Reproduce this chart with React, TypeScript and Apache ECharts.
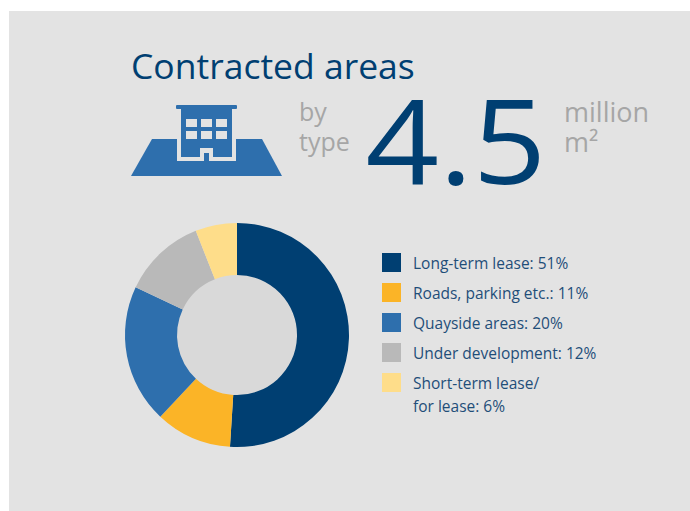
import React, { useEffect, useRef } from "react";
import * as echarts from "echarts";

const categories = ["Long-term lease", "Roads, parking etc.", "Quayside areas", "Under development", "Short-term lease/\nfor lease"];
const values = [51, 11, 20, 12, 6];
const colors = ["#003f72", "#fbb427", "#2e6fad", "#b9b9b9", "#fedd8a"];
const FONT = "Open Sans";
const NAVY = "#003f72";
const GREY = "#a6a6a6";
const BLUE = "#2e6fad";
const PANEL = "#e3e3e3";

const rect = (x: number, y: number, width: number, height: number, fill: string) => ({
  type: "rect", shape: { x, y, width, height }, style: { fill }, silent: true,
});
const text = (x: number, baseline: number, t: string, fontSize: number, fill: string, scaleX = 1) => ({
  type: "text", x, y: baseline - 0.36 * fontSize, scaleX,
  style: { text: t, fontSize, fill, fontFamily: FONT, verticalAlign: "middle" }, silent: true,
});
const twoLines = (x: number, baseline: number, t: string, fontSize: number, fill: string) => ({
  type: "text", x, y: baseline - 0.36 * fontSize + 15,
  style: { text: t, fontSize, lineHeight: 30, fill, fontFamily: FONT, verticalAlign: "middle" }, silent: true,
});
const legendText = { color: "#1f4e79", fontSize: 15.5, fontFamily: FONT, lineHeight: 23 };
const formatter = (name: string) => `${name}: ${values[categories.indexOf(name)]}%`;

export default function App() {
  const ref = useRef<HTMLDivElement>(null);
  useEffect(() => {
    document.body.style.margin = "0";
    const chart = echarts.init(ref.current!, null, { renderer: "svg" });
    const windows: any[] = [];
    for (const y of [119, 131]) for (const x of [186, 201, 216]) windows.push(rect(x, y, 11, 8, PANEL));
    chart.setOption({
      animation: false,
      backgroundColor: "#ffffff",
      graphic: [
        rect(9, 11, 681, 500, PANEL),
        { type: "circle", shape: { cx: 237, cy: 335, r: 62 }, style: { fill: "#d9d9d9" }, silent: true },
        { type: "polygon", shape: { points: [[131, 176], [282, 176], [262, 139], [152, 139]] }, style: { fill: BLUE }, silent: true },
        rect(177, 112, 59, 49, PANEL),
        rect(181, 107, 51, 50, BLUE),
        { type: "rect", shape: { x: 176, y: 105, width: 61, height: 4, r: 1 }, style: { fill: BLUE }, silent: true },
        ...windows,
        rect(200, 148, 13, 13, PANEL),
        rect(204, 153, 5, 8, BLUE),
        text(131, 78, "Contracted areas", 35.5, NAVY),
        twoLines(299, 120, "by\ntype", 25, GREY),
        text(365.5, 181, "4.5", 118, NAVY, 1.09),
        twoLines(564, 121, "million\nm²", 27, GREY),
      ],
      legend: [
        {
          orient: "vertical", left: 382, top: 249, padding: 0,
          itemWidth: 19, itemHeight: 19, itemGap: 3, icon: "rect", selectedMode: false,
          data: categories.slice(0, 4),
          textStyle: { ...legendText, padding: [0, 0, 4, 7] },
          formatter,
        },
        {
          orient: "vertical", left: 382, top: 348, padding: 0,
          itemWidth: 19, itemHeight: 19, itemGap: 3, icon: "rect", selectedMode: false,
          data: categories.slice(4),
          textStyle: { ...legendText, padding: [0, 0, 0, 7] },
          formatter: (name: string) => `\n${formatter(name)}`,
        },
      ],
      series: [
        {
          type: "pie",
          center: [237, 335],
          radius: [60, 112],
          startAngle: 90,
          clockwise: true,
          label: { show: false },
          labelLine: { show: false },
          silent: true,
          data: categories.map((name, i) => ({ name, value: values[i], itemStyle: { color: colors[i] } })),
        },
      ],
    });
    return () => chart.dispose();
  }, []);
  return <div ref={ref} style={{ width: 690, height: 511 }} />;
}
